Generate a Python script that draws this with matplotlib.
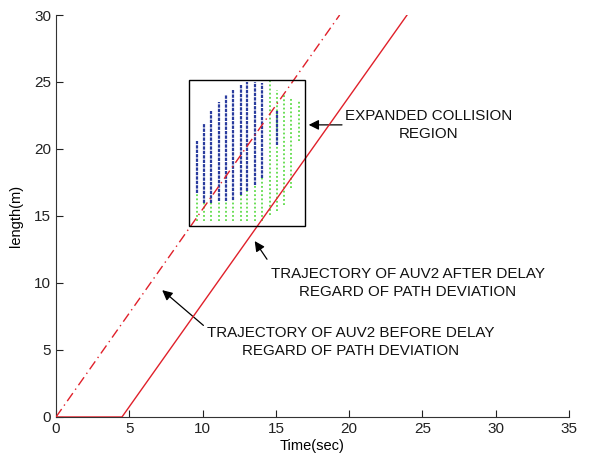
import matplotlib
matplotlib.use("Agg")
import matplotlib.pyplot as plt
from matplotlib.patches import Rectangle

plt.rcParams['font.family'] = ['Liberation Sans', 'DejaVu Sans']

# Trajectories of AUV2 (time in s, length in m)
before_t = [0.0, 19.35]
before_len = [0.0, 30.0]
after_t = [0.0, 4.5, 23.95]
after_len = [0.0, 0.0, 30.0]

# Expanded collision region: sampled columns
col_t = [9.6, 10.1, 10.6, 11.1, 11.6, 12.1, 12.6, 13.05, 13.6, 14.05,
         14.6, 15.05, 15.55, 16.05, 16.55]
blue_lo = [16.7, 16.0, 16.0, 16.1, 16.1, 16.2, 16.6, 16.9, 17.3, 17.8,
           None, 20.3, None, None, None]
blue_hi = [20.6, 21.9, 22.8, 23.5, 24.0, 24.4, 24.85, 25.0, 25.0, 24.9,
           None, 22.8, None, None, None]
green_lo = [14.6, 14.6, 14.6, 14.6, 14.6, 14.6, 14.6, 14.6, 14.6, 14.6,
            15.1, 15.4, 15.8, 17.1, 20.6]
green_hi = [16.7, 16.0, 16.0, 16.1, 16.1, 16.2, 16.6, 16.9, 17.3, 17.8,
            25.05, 24.4, 24.05, 23.8, 23.6]

# Bounding box of the region
box_t = [9.07, 17.0]
box_len = [14.25, 25.15]

fig = plt.figure(figsize=(5.91, 4.63), dpi=100)
ax = fig.add_axes([0.0948, 0.0994, 0.868, 0.8682])

for t, lo, hi in zip(col_t, green_lo, green_hi):
    ax.plot([t, t], [lo, hi], color='#5fdc4a', lw=1.3,
            ls=(0, (1, 1.3)), zorder=2)
for t, lo, hi in zip(col_t, blue_lo, blue_hi):
    if lo is None:
        continue
    ax.plot([t, t], [lo, hi], color='#2a3c9e', lw=1.6,
            ls=(0, (1.5, 0.5)), zorder=3)

ax.plot(before_t, before_len, color='#e0202a', lw=1.0,
        ls=(0, (7, 3, 1, 3)), zorder=4)
ax.plot(after_t, after_len, color='#e0202a', lw=1.0, zorder=4)

ax.add_patch(Rectangle((box_t[0], box_len[0]), box_t[1] - box_t[0],
                       box_len[1] - box_len[0], fill=False,
                       edgecolor='black', lw=1.0, zorder=5))

arrow = dict(arrowstyle='-|>', color='black', lw=0.9, mutation_scale=15)
txt = dict(fontsize=10.9, ha='center', va='center', linespacing=1.3,
           color='#111111')

ax.text(25.4, 21.8, 'EXPANDED COLLISION\nREGION', **txt)
ax.annotate('', xy=(17.05, 21.8), xytext=(19.7, 21.8), arrowprops=arrow)

ax.text(24.0, 10.0, 'TRAJECTORY OF AUV2 AFTER DELAY\nREGARD OF PATH DEVIATION',
        **txt)
ax.annotate('', xy=(13.45, 13.3), xytext=(14.5, 11.6), arrowprops=arrow)

ax.text(20.1, 5.6, 'TRAJECTORY OF AUV2 BEFORE DELAY\nREGARD OF PATH DEVIATION',
        **txt)
ax.annotate('', xy=(7.1, 9.6), xytext=(10.2, 6.7), arrowprops=arrow)

ax.set_xlim(0, 35)
ax.set_ylim(0, 30)
ax.set_xticks([0, 5, 10, 15, 20, 25, 30, 35])
ax.set_yticks([0, 5, 10, 15, 20, 25, 30])
ax.tick_params(direction='in', length=5, labelsize=11, colors='#222222')
ax.spines['top'].set_visible(False)
ax.spines['right'].set_visible(False)
for s in ('left', 'bottom'):
    ax.spines[s].set_color('#333333')
ax.set_xlabel('Time(sec)', fontsize=10.5, labelpad=2)
ax.set_ylabel('length(m)', fontsize=10.5, labelpad=8)

fig.savefig('out.png', dpi=100)
